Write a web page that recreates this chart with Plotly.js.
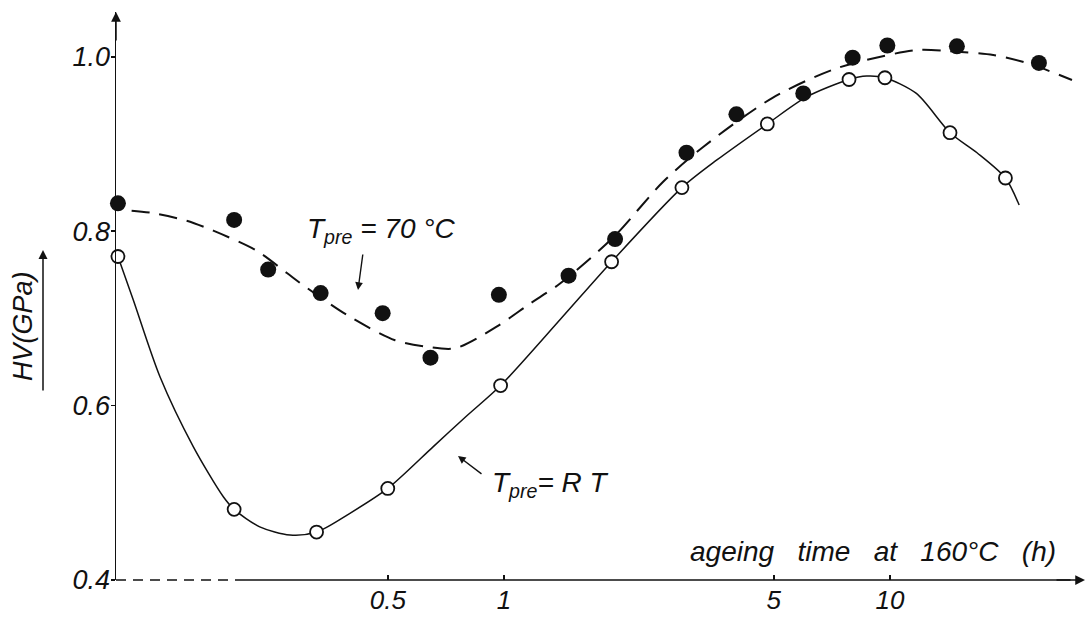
<!DOCTYPE html>
<html>
<head>
<meta charset="utf-8">
<script src="https://cdn.plot.ly/plotly-3.0.1.min.js"></script>
<style>html,body{margin:0;padding:0;background:#fff;}#chart{width:1089px;height:621px;}</style>
</head>
<body>
<div id="chart"></div>
<script>
// ---- data ----
// measured points, pre-ageing at 70 °C (filled circles)
const time70 = [0.1, 0.2, 0.245, 0.335, 0.485, 0.645, 0.97, 1.47, 1.94, 2.97, 4.0, 5.96, 8.0, 9.84, 14.9, 24.3];
const hv70   = [0.832, 0.813, 0.756, 0.729, 0.706, 0.655, 0.727, 0.749, 0.791, 0.890, 0.934, 0.958, 0.999, 1.013, 1.012, 0.993];
// measured points, pre-ageing at room temperature (open circles)
const timeRT = [0.1, 0.2, 0.327, 0.5, 0.98, 1.9, 2.89, 4.81, 7.83, 9.7, 14.3, 19.9];
const hvRT   = [0.771, 0.481, 0.455, 0.505, 0.623, 0.765, 0.850, 0.923, 0.974, 0.976, 0.913, 0.861];
// hand-drawn trend curves
const curve70Time = [0.1085, 0.1245, 0.1507, 0.1766, 0.228, 0.274, 0.302, 0.395, 0.522, 0.630, 0.746, 0.957, 1.168, 1.397, 1.92, 2.58, 3.28, 4.95, 7.29, 11.75, 14.1, 18.5, 22.6, 29.6];
const curve70HV   = [0.8235, 0.8205, 0.812, 0.8006, 0.778, 0.752, 0.738, 0.703, 0.675, 0.6676, 0.6657, 0.6905, 0.717, 0.740, 0.793, 0.8564, 0.8966, 0.9527, 0.987, 1.0078, 1.0066, 1.002, 0.993, 0.9734];
const curveRTTime = [0.1, 0.1096, 0.1285, 0.1567, 0.1875, 0.2, 0.233, 0.279, 0.327, 0.399, 0.5, 0.656, 0.80, 0.98, 1.4, 1.9, 2.89, 3.56, 4.81, 6.08, 7.83, 8.7, 9.7, 11.7, 14.3, 16.8, 19.9, 21.6];
const curveRTHV   = [0.771, 0.721, 0.633, 0.553, 0.4955, 0.481, 0.461, 0.4516, 0.455, 0.4765, 0.505, 0.553, 0.588, 0.623, 0.699, 0.765, 0.850, 0.8817, 0.923, 0.954, 0.974, 0.978, 0.976, 0.958, 0.913, 0.890, 0.861, 0.830];
// tick labels
const xTickVals = [0.5, 1, 5, 10];
const xTickText = ['0.5', '1', '5', '10'];
const yTickVals = [0.4, 0.6, 0.8, 1.0];
const yTickText = ['0.4', '0.6', '0.8', '1.0'];
// texts
const xTitle = 'ageing\u00a0\u00a0 time\u00a0\u00a0 at\u00a0\u00a0 160\u00b0C\u00a0\u00a0 (h)';
const yTitle = 'HV(GPa)';
const label70 = 'T<sub>pre</sub> = 70 \u00b0C';
const labelRT = 'T<sub>pre</sub>= R T';

const INK = '#111';
const FONT = 'Liberation Sans, Arial, sans-serif';

const traces = [
  {x: curve70Time, y: curve70HV, mode: 'lines', line: {color: INK, width: 2, dash: '18px,10px', shape: 'spline', smoothing: 0.8}, hoverinfo: 'skip', cliponaxis: false},
  {x: curveRTTime, y: curveRTHV, mode: 'lines', line: {color: INK, width: 1.5, shape: 'spline', smoothing: 0.8}, hoverinfo: 'skip', cliponaxis: false},
  {x: time70, y: hv70, mode: 'markers', marker: {size: 16, color: INK}, cliponaxis: false},
  {x: timeRT, y: hvRT, mode: 'markers', marker: {size: 13, color: '#fff', line: {color: INK, width: 1.8}}, cliponaxis: false}
];

const W = 969, H = 568, L = 116, T = 12;
const px = v => (v - L) / W;         // pixel -> paper x
const py = v => (T + H - v) / H;     // pixel -> paper y

const layout = {
  width: 1089, height: 621,
  margin: {l: L, r: 4, t: T, b: 41, pad: 0},
  paper_bgcolor: '#fff', plot_bgcolor: '#fff',
  showlegend: false,
  font: {family: FONT, size: 27, color: INK, style: 'italic'},
  xaxis: {
    type: 'log', range: [-1.005, 1.505],
    tickmode: 'array', tickvals: xTickVals, ticktext: xTickText,
    ticks: 'inside', ticklen: 5, tickwidth: 1.5, tickcolor: INK,
    ticklabelstandoff: 2,
    showgrid: false, zeroline: false, showline: false,
    tickfont: {family: FONT, size: 26, color: INK, style: 'italic'}
  },
  yaxis: {
    range: [0.4, 1.0514],
    tickmode: 'array', tickvals: yTickVals, ticktext: yTickText,
    ticks: 'outside', ticklen: 4, tickwidth: 1.5, tickcolor: INK,
    ticklabelstandoff: -5,
    showgrid: false, zeroline: false, showline: true, linecolor: INK, linewidth: 1.5,
    tickfont: {family: FONT, size: 27, color: INK, style: 'italic'}
  },
  shapes: [
    {type: 'line', xref: 'paper', yref: 'paper', x0: 0, x1: px(245), y0: 0, y1: 0, line: {color: INK, width: 1.5, dash: '10px,7px'}},
    {type: 'line', xref: 'paper', yref: 'paper', x0: px(245), x1: 0.985, y0: 0, y1: 0, line: {color: INK, width: 1.5}}
  ],
  annotations: [
    // axis arrow heads
    {xref: 'paper', yref: 'paper', x: 0, y: 1, ax: 0, ay: 30, text: '', showarrow: true, arrowhead: 2, arrowsize: 1.3, arrowwidth: 1.5, arrowcolor: INK},
    {xref: 'paper', yref: 'paper', x: 1, y: 0, ax: -30, ay: 0, text: '', showarrow: true, arrowhead: 2, arrowsize: 1.3, arrowwidth: 1.5, arrowcolor: INK},
    // y title with its arrow
    {xref: 'paper', yref: 'paper', x: px(23), y: py(326), text: yTitle, textangle: -90, showarrow: false, xanchor: 'center', yanchor: 'middle', font: {family: FONT, size: 27, color: INK, style: 'italic'}},
    {xref: 'paper', yref: 'paper', x: px(43), y: py(250), ax: 0, ay: 142, text: '', showarrow: true, arrowhead: 2, arrowsize: 1.2, arrowwidth: 1.5, arrowcolor: INK},
    // x title
    {xref: 'paper', yref: 'paper', x: px(1058), y: py(551), text: xTitle, showarrow: false, xanchor: 'right', yanchor: 'middle', font: {family: FONT, size: 28, color: INK, style: 'italic'}},
    // curve labels
    {xref: 'paper', yref: 'paper', x: px(305), y: py(230), text: label70, showarrow: false, xanchor: 'left', yanchor: 'middle', font: {family: FONT, size: 28, color: INK, style: 'italic'}},
    {xref: 'paper', yref: 'paper', x: px(358), y: py(290), ax: 5, ay: -37, text: '', showarrow: true, arrowhead: 2, arrowsize: 1.1, arrowwidth: 1.4, arrowcolor: INK},
    {xref: 'paper', yref: 'paper', x: px(490), y: py(484), text: labelRT, showarrow: false, xanchor: 'left', yanchor: 'middle', font: {family: FONT, size: 28, color: INK, style: 'italic'}},
    {xref: 'paper', yref: 'paper', x: px(458), y: py(456), ax: 25, ay: 19, text: '', showarrow: true, arrowhead: 2, arrowsize: 1.1, arrowwidth: 1.4, arrowcolor: INK}
  ]
};

Plotly.newPlot('chart', traces, layout, {staticPlot: true, displayModeBar: false});
</script>
</body>
</html>
